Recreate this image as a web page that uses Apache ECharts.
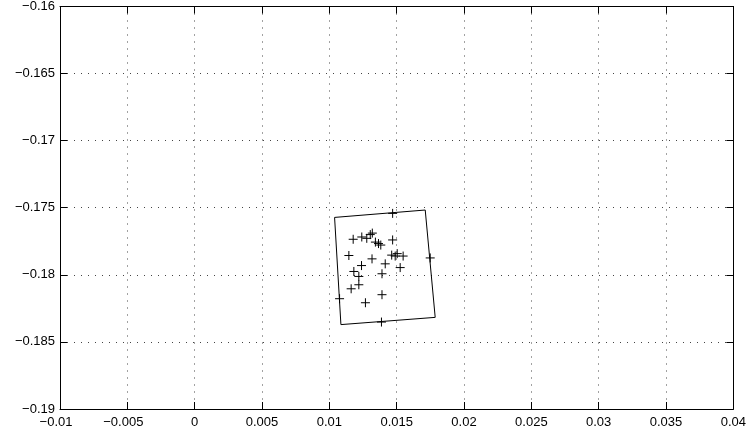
<!DOCTYPE html>
<html>
<head>
<meta charset="utf-8">
<script src="https://cdn.jsdelivr.net/npm/echarts@6/dist/echarts.min.js"></script>
<style>html,body{margin:0;padding:0;background:#fff;}#c{width:749px;height:438px;}</style>
</head>
<body>
<div id="c"></div>
<script>
// Tick settings
var xTicks = [-0.01, -0.005, 0, 0.005, 0.01, 0.015, 0.02, 0.025, 0.03, 0.035, 0.04];
var yTicks = [-0.19, -0.185, -0.18, -0.175, -0.17, -0.165, -0.16];

// Quadrilateral outline (closed)
var boxX = [0.01039, 0.01712, 0.01786, 0.01086, 0.01039];
var boxY = [-0.17572, -0.17517, -0.18317, -0.18371, -0.17572];

// '+' markers
var markX = [0.01470, 0.01177, 0.01241, 0.01278, 0.01304, 0.01319, 0.01342, 0.01365, 0.01382, 0.01470,
             0.01145, 0.01317, 0.01463, 0.01489, 0.01504, 0.01548, 0.01239, 0.01415, 0.01526, 0.01182,
             0.01219, 0.01391, 0.01219, 0.01162, 0.01076, 0.01391, 0.01268, 0.01387, 0.01749];
var markY = [-0.17542, -0.17735, -0.17718, -0.17728, -0.17700, -0.17689, -0.17756, -0.17767, -0.17778, -0.17740,
             -0.17856, -0.17881, -0.17853, -0.17860, -0.17842, -0.17860, -0.17931, -0.17918, -0.17946, -0.17975,
             -0.18012, -0.17992, -0.18074, -0.18104, -0.18178, -0.18148, -0.18208, -0.18352, -0.17874];

function fmt(v) {
  var r = Math.round(v * 1000000) / 1000000;
  var s = String(Math.abs(r));
  return (r < 0 ? '\u2212' : '') + s;
}

var boxData = boxX.map(function (x, i) { return [x, boxY[i]]; });
var markData = markX.map(function (x, i) { return [x, markY[i]]; });

var FONT = '"Liberation Sans", Arial, Helvetica, sans-serif';
var gridLine = { show: true, lineStyle: { color: '#444', width: 1, type: [1, 6] } };
var tickIn = { show: true, inside: true, length: 7, lineStyle: { color: '#000', width: 1 } };
var axLine = { show: true, onZero: false, lineStyle: { color: '#000', width: 1 } };

var chart = echarts.init(document.getElementById('c'), null, { renderer: 'canvas' });
chart.setOption({
  animation: false,
  backgroundColor: '#fff',
  grid: { left: 60, right: 13, top: 5, bottom: 29, containLabel: false },
  xAxis: [
    {
      type: 'value', position: 'bottom',
      min: xTicks[0], max: xTicks[xTicks.length - 1], interval: 0.005,
      axisLine: axLine, axisTick: tickIn, splitLine: gridLine,
      axisLabel: {
        show: true, margin: 7, color: '#000', fontSize: 13, fontFamily: FONT,
        formatter: function (v) {
          var s = fmt(v);
          return v < 0 ? s + '{s|}' : s;
        },
        rich: { s: { width: 8, height: 1 } }
      }
    },
    {
      type: 'value', position: 'top',
      min: xTicks[0], max: xTicks[xTicks.length - 1], interval: 0.005,
      axisLine: axLine, axisTick: tickIn, splitLine: { show: false },
      axisLabel: { show: false }
    }
  ],
  yAxis: [
    {
      type: 'value', position: 'left',
      min: yTicks[0], max: yTicks[yTicks.length - 1], interval: 0.005,
      axisLine: axLine, axisTick: tickIn, splitLine: gridLine,
      axisLabel: {
        show: true, margin: 5, color: '#000', fontSize: 13, fontFamily: FONT,
        formatter: function (v) { return fmt(v); }
      }
    },
    {
      type: 'value', position: 'right',
      min: yTicks[0], max: yTicks[yTicks.length - 1], interval: 0.005,
      axisLine: axLine, axisTick: tickIn, splitLine: { show: false },
      axisLabel: { show: false }
    }
  ],
  series: [
    {
      type: 'line', xAxisIndex: 0, yAxisIndex: 0,
      data: boxData, symbol: 'none', silent: true,
      lineStyle: { color: '#000', width: 1 }, z: 2
    },
    {
      type: 'scatter', xAxisIndex: 0, yAxisIndex: 0,
      data: markData, silent: true,
      symbol: 'path://M5,0L5,10M0,5L10,5', symbolSize: 9,
      itemStyle: { color: 'rgba(0,0,0,0)', borderColor: '#000', borderWidth: 1, opacity: 1 },
      z: 3
    }
  ]
});
</script>
</body>
</html>
